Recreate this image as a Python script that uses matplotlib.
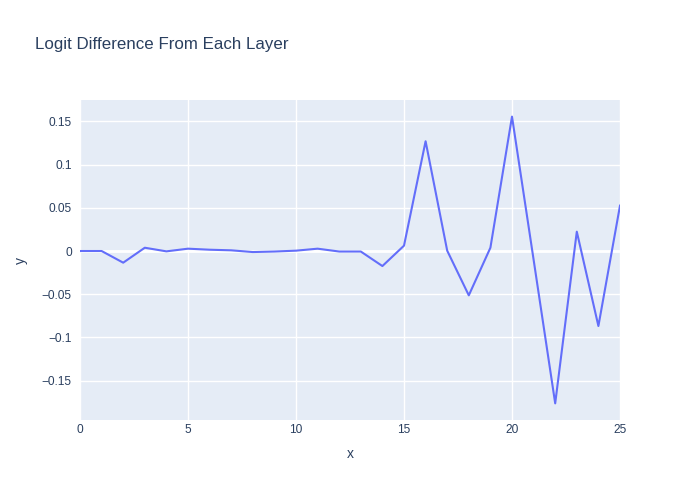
import matplotlib
matplotlib.use("Agg")
import matplotlib.pyplot as plt
from matplotlib.ticker import FuncFormatter

layers = list(range(26))
logit_diff = [0.0, 0.0, -0.0135, 0.0038, -0.0004, 0.0027, 0.0015, 0.0008, -0.0012, -0.0006,
              0.0004, 0.0027, -0.0006, -0.0006, -0.0174, 0.0062, 0.127, 0.0004, -0.0513, 0.0038,
              0.1555, -0.010, -0.1763, 0.0224, -0.0868, 0.0525]
x_ticks = [0, 5, 10, 15, 20, 25]
y_ticks = [-0.15, -0.1, -0.05, 0, 0.05, 0.1, 0.15]

plt.rcParams['font.family'] = ['Liberation Sans', 'DejaVu Sans']
txt = '#2a3f5f'

fig = plt.figure(figsize=(7, 5), dpi=100)
ax = fig.add_axes([80/700, 80/500, 540/700, 320/500])
ax.set_facecolor('#e5ecf6')
ax.plot(layers, logit_diff, color='#636efa', lw=1.5, zorder=3)
ax.set_xlim(0, 25)
ymin, ymax = min(logit_diff), max(logit_diff)
pad = (ymax - ymin) * 0.058
ax.set_ylim(ymin - pad, ymax + pad)
ax.set_xticks(x_ticks)
ax.set_yticks(y_ticks)

def fmt(v, p):
    s = f"{v:.2f}".rstrip('0').rstrip('.')
    if s in ('-0', '0'):
        return '0'
    return s.replace('-', '\u2212')

ax.yaxis.set_major_formatter(FuncFormatter(fmt))
ax.xaxis.set_major_formatter(FuncFormatter(lambda v, p: f"{int(v)}"))
ax.grid(True, color='white', lw=1)
ax.axhline(0, color='white', lw=2, zorder=2)
ax.set_axisbelow(True)
for s in ax.spines.values():
    s.set_visible(False)
ax.tick_params(length=0, labelsize=8.6, colors=txt, pad=6)
ax.tick_params(axis='x', pad=3)
ax.set_xlabel('x', fontsize=10, color=txt, labelpad=8)
ax.set_ylabel('y', fontsize=10, color=txt, labelpad=10)
fig.text(35/700, 1 - 45/500, 'Logit Difference From Each Layer', fontsize=12.2, color=txt, va='center', ha='left')
fig.savefig('out.png', dpi=100, facecolor='white')
